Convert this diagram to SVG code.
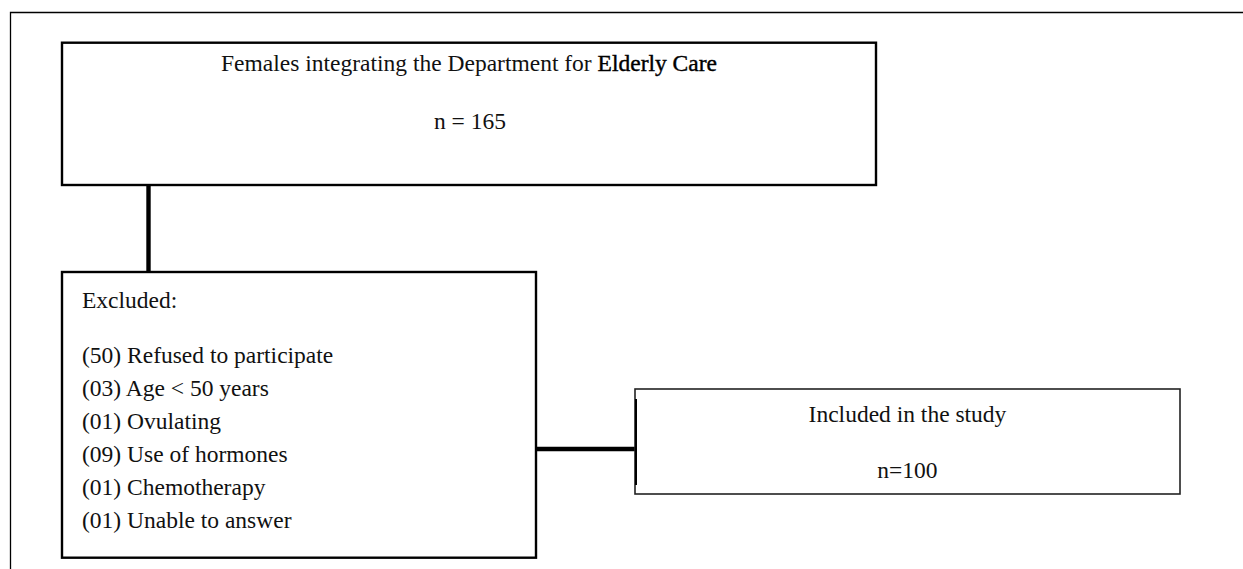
<svg xmlns="http://www.w3.org/2000/svg" width="1243" height="569" viewBox="0 0 1243 569">
<style>
  .box { fill: #ffffff; stroke: #000000; stroke-width: 2.4; }
  .box2 { fill: #ffffff; stroke: #222222; stroke-width: 1.6; }
  .frame { fill: none; stroke: #000000; stroke-width: 1.3; }
  .conn { fill: none; stroke: #000000; stroke-width: 4.4; }
  text { font-family: "Liberation Serif", "Times New Roman", serif; font-size: 23.5px; fill: #111111; }
  .c { text-anchor: middle; }
</style>
<rect width="1243" height="569" fill="#ffffff"/>
<path class="frame" d="M10.5 569 V12.5 H1243"/>
<g id="connectors">
  <line class="conn" x1="148.5" y1="185" x2="148.5" y2="272"/>
  <line class="conn" x1="536" y1="449" x2="635" y2="449"/>
</g>
<g id="node-females">
  <rect class="box" x="62" y="42.7" width="814" height="142.3"/>
  <text class="c" x="469" y="71">Females integrating the Department for <tspan fill="#000" stroke="#000" stroke-width="0.4">Elderly Care</tspan></text>
  <text class="c" x="470" y="129">n = 165</text>
</g>
<g id="node-excluded">
  <rect class="box" x="62" y="272" width="474" height="285.7"/>
  <text x="82" y="308">Excluded:</text>
  <text x="82" y="363">(50) Refused to participate</text>
  <text x="82" y="396">(03) Age &lt; 50 years</text>
  <text x="82" y="429">(01) Ovulating</text>
  <text x="82" y="462">(09) Use of hormones</text>
  <text x="82" y="495">(01) Chemotherapy</text>
  <text x="82" y="528">(01) Unable to answer</text>
</g>
<g id="node-included">
  <rect class="box2" x="635" y="389" width="545" height="105"/>
  <line x1="636" y1="399" x2="636" y2="485" stroke="#000" stroke-width="2"/>
  <text class="c" x="907.5" y="421.5">Included in the study</text>
  <text class="c" x="907.5" y="478">n=100</text>
</g>
</svg>
